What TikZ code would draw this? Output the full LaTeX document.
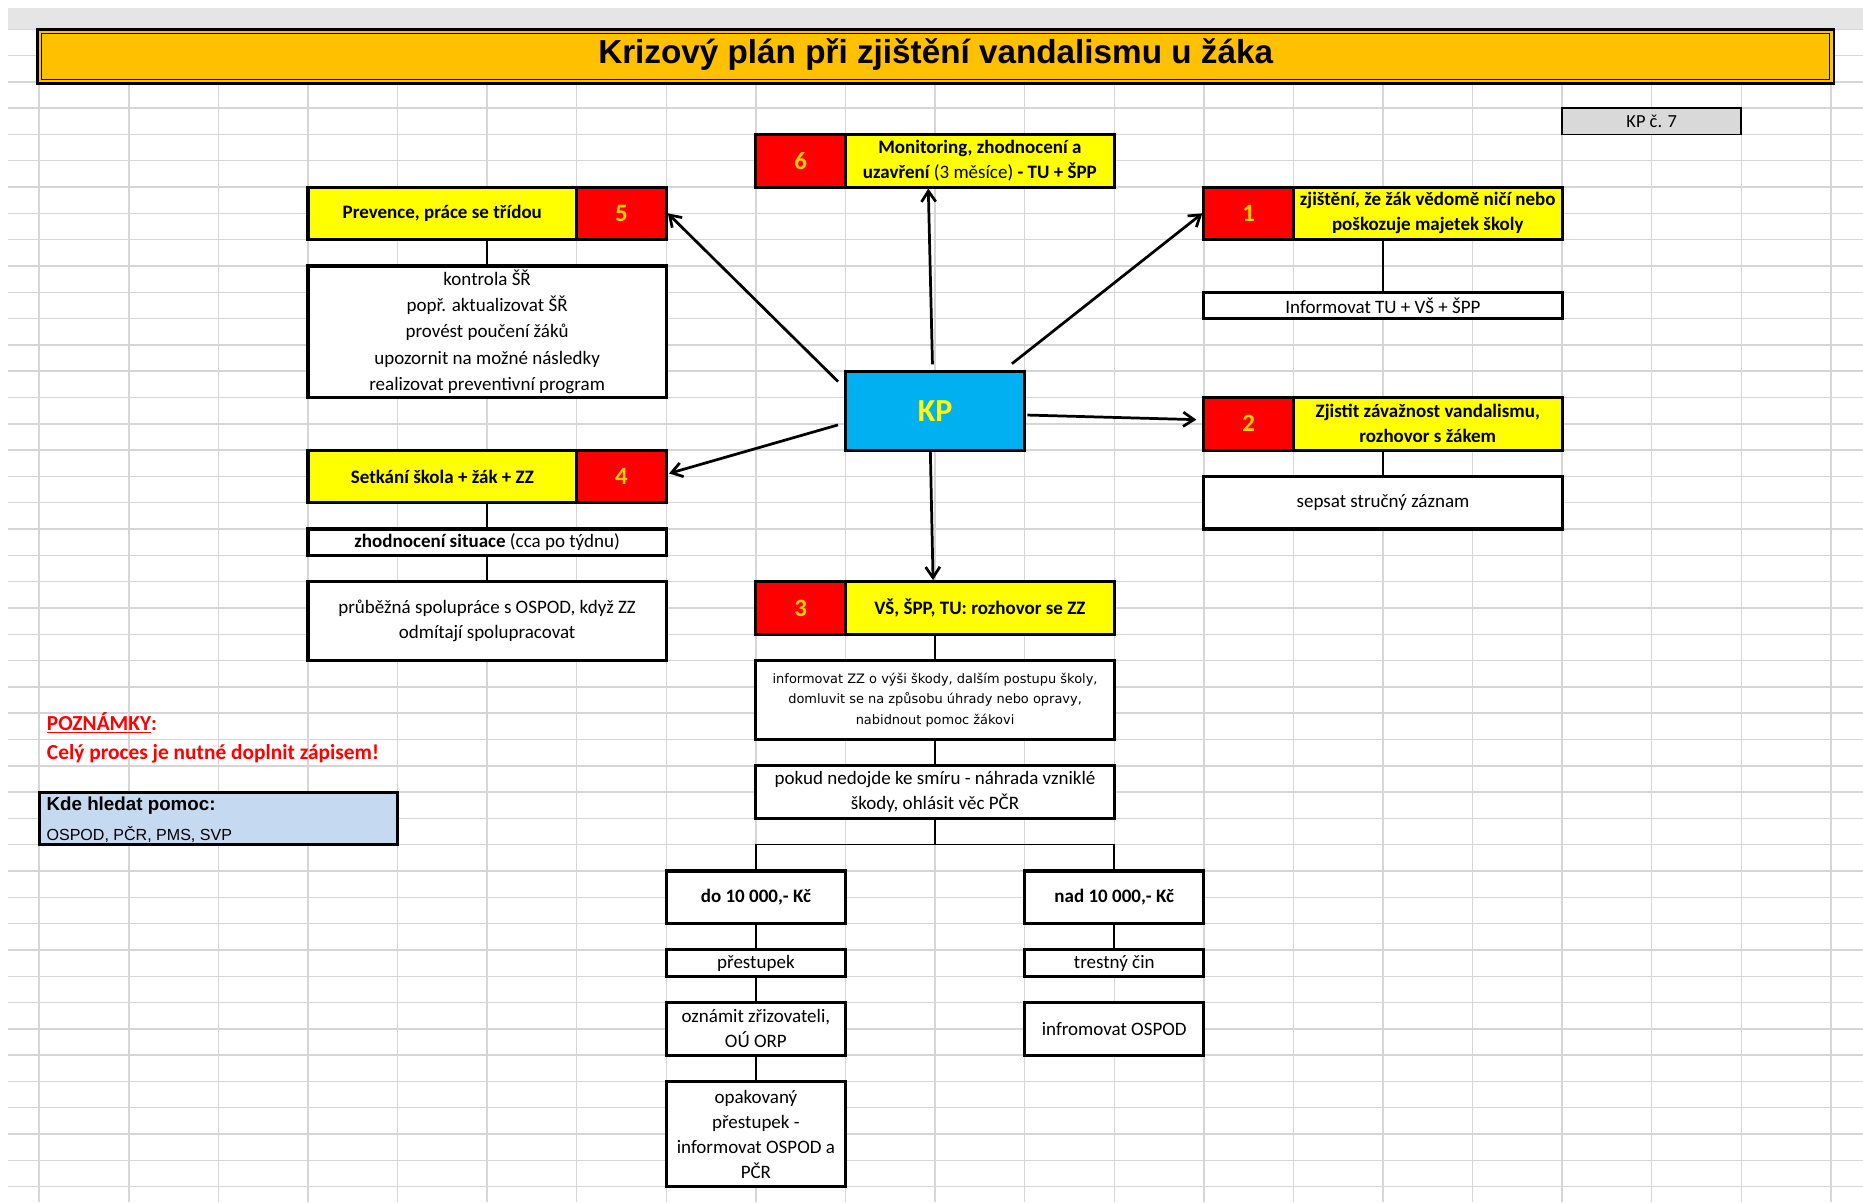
\documentclass[tikz,border=0pt]{standalone}
\usepackage{fontspec}
\setmainfont{Carlito}
\newfontfamily\headfont{Liberation Sans}
\newfontfamily\widefont{DejaVu Sans}
\usetikzlibrary{arrows.meta,calc}

\definecolor{gridgray}{HTML}{D6D6D6}
\definecolor{bandgray}{HTML}{E5E5E5}
\definecolor{titleorange}{HTML}{FFC000}
\definecolor{stepyellow}{HTML}{FFFF00}
\definecolor{stepred}{HTML}{FF0000}
\definecolor{kpblue}{HTML}{00B0F0}
\definecolor{numyellow}{HTML}{FFD200}
\definecolor{helpblue}{HTML}{C5D9F1}
\definecolor{labelgray}{HTML}{D9D9D9}
\definecolor{notered}{HTML}{FF0000}

% sheet grid: column lines and row lines
\pgfmathdeclarefunction{gx}{1}{\pgfmathparse{33+75.4*#1}}
\pgfmathdeclarefunction{gy}{1}{\pgfmathparse{24.6+22.14*#1}}

% a box covering columns #3..#4 and rows #5..#6
\newcommand\cellnode[7][]{%
  \node[cellbase,#1,minimum width={75.4*(#4-#3)},minimum height={22.14*(#6-#5)}]
    (#2) at ({gx((#3+#4)/2)},{gy((#5+#6)/2)}) {#7};}

\tikzset{
  gridline/.style={draw=gridgray, line width=1.2pt},
  cellbase/.style={rectangle, inner sep=0pt, align=center, font=\fontsize{16}{21}\selectfont},
  framed/.style={draw=black, line width=2.6pt},
  yellowcell/.style={framed, fill=stepyellow, font=\bfseries\fontsize{16}{21}\selectfont},
  redcell/.style={framed, fill=stepred, text=numyellow, font=\bfseries\fontsize{21}{21}\selectfont},
  whitecell/.style={framed, fill=white},
  kpcell/.style={framed, fill=kpblue, text=stepyellow, font=\bfseries\fontsize{27}{27}\selectfont},
  labelcell/.style={draw=black, line width=1.5pt, fill=labelgray, font=\fontsize{15.5}{18}\selectfont},
  helpcell/.style={framed, fill=helpblue},
  link/.style={draw=black, line width=1.3pt},
  spoke/.style={draw=black, line width=2.3pt, -{Straight Barb[length=9pt,width=12pt]}},
}

\begin{document}
\begin{tikzpicture}[x=1pt,y=-1pt]
\useasboundingbox (0,0) rectangle (1568,1012);

% header band and sheet grid
\fill[bandgray] (7,7) rectangle (1568,24.6);
\foreach \m in {0,...,44} \draw[gridline] (7,{gy(\m)}) -- (1568,{gy(\m)});
\foreach \j in {0,...,20} \draw[gridline] ({gx(\j)},24.6) -- ({gx(\j)},1012);

% title bar with double frame
\fill[titleorange] (31.5,24.6) rectangle (1543.5,70.2);
\draw[line width=2.2pt] (31.5,24.6) rectangle (1543.5,70.2);
\draw[line width=0.9pt] (35,28.1) rectangle (1540,66.7);
\node[font=\headfont\bfseries\fontsize{28}{30}\selectfont] (title) at (787.5,46)
  {Krizový plán při zjištění vandalismu u žáka};

% plan number
\cellnode[labelcell]{kpno}{17}{19}{3}{4}{KP č. 7}

% numbered steps
\cellnode[yellowcell]{y5}{3}{6}{6}{8}{Prevence, práce se třídou}
\cellnode[redcell]{r5}{6}{7}{6}{8}{5}

\cellnode[redcell]{r6}{8}{9}{4}{6}{6}
\cellnode[yellowcell]{y6}{9}{12}{4}{6}{Monitoring, zhodnocení a\\uzavření {\mdseries(3 měsíce)} - TU + ŠPP}

\cellnode[redcell]{r1}{13}{14}{6}{8}{1}
\cellnode[yellowcell]{y1}{14}{17}{6}{8}{zjištění, že žák vědomě ničí nebo\\poškozuje majetek školy}

\cellnode[redcell]{r2}{13}{14}{14}{16}{2}
\cellnode[yellowcell]{y2}{14}{17}{14}{16}{Zjistit závažnost vandalismu,\\rozhovor s žákem}

\cellnode[yellowcell]{y4}{3}{6}{16}{18}{Setkání škola + žák + ZZ}
\cellnode[redcell]{r4}{6}{7}{16}{18}{4}

\cellnode[redcell]{r3}{8}{9}{21}{23}{3}
\cellnode[yellowcell]{y3}{9}{12}{21}{23}{VŠ, ŠPP, TU: rozhovor se ZZ}

% centre
\cellnode[kpcell]{kp}{9}{11}{13}{16}{KP}

% detail boxes
\cellnode[whitecell,font=\fontsize{16}{22.14}\selectfont]{kontrola}{3}{7}{9}{14}{kontrola ŠŘ\\popř. aktualizovat ŠŘ\\provést poučení žáků\\upozornit na možné následky\\realizovat preventivní program}
\cellnode[whitecell]{inf1}{13}{17}{10}{11}{Informovat TU + VŠ + ŠPP}
\cellnode[whitecell]{sepsat}{13}{17}{17}{19}{sepsat stručný záznam}
\cellnode[whitecell]{zhod}{3}{7}{19}{20}{{\bfseries zhodnocení situace} (cca po týdnu)}
\cellnode[whitecell]{prub}{3}{7}{21}{24}{průběžná spolupráce s OSPOD, když ZZ\\odmítají spolupracovat}
\cellnode[whitecell,font=\widefont\fontsize{10.9}{17.5}\selectfont]{infzz}{8}{12}{24}{27}{informovat ZZ o výši škody, dalším postupu školy,\\domluvit se na způsobu úhrady nebo opravy,\\nabidnout pomoc žákovi}
\cellnode[whitecell]{pokud}{8}{12}{28}{30}{pokud nedojde ke smíru - náhrada vzniklé\\škody, ohlásit věc PČR}
\cellnode[whitecell,font=\bfseries\fontsize{16}{21}\selectfont]{do10}{7}{9}{32}{34}{do 10 000,- Kč}
\cellnode[whitecell,font=\bfseries\fontsize{16}{21}\selectfont]{nad10}{11}{13}{32}{34}{nad 10 000,- Kč}
\cellnode[whitecell]{prest}{7}{9}{35}{36}{přestupek}
\cellnode[whitecell]{trest}{11}{13}{35}{36}{trestný čin}
\cellnode[whitecell]{ozn}{7}{9}{37}{39}{oznámit zřizovateli,\\OÚ ORP}
\cellnode[whitecell]{infos}{11}{13}{37}{39}{infromovat OSPOD}
\cellnode[whitecell]{opak}{7}{9}{40}{44}{opakovaný\\přestupek -\\informovat OSPOD a\\PČR}

% notes
\node[anchor=west, text=notered, font=\bfseries\fontsize{18}{20}\selectfont] (notehead) at (36,608) {\underline{POZNÁMKY}:};
\node[anchor=west, text=notered, font=\bfseries\fontsize{18}{20}\selectfont] (notebody) at (36,634.6) {Celý proces je nutné doplnit zápisem!};

\cellnode[helpcell]{help}{0}{4}{29}{31}{}
\node[anchor=west, font=\headfont\bfseries\fontsize{15.8}{18}\selectfont] (helphead) at ([shift={(4,13)}]help.north west) {Kde hledat pomoc:};
\node[anchor=west, font=\headfont\fontsize{13.5}{16}\selectfont] (helpbody) at ([shift={(4,37)}]help.north west) {OSPOD, PČR, PMS, SVP};

% thin links between boxes
\draw[link] (kontrola.north) -- (kontrola.north |- y5.south);
\draw[link] (inf1.north) -- (inf1.north |- y1.south);
\draw[link] (sepsat.north) -- (sepsat.north |- y2.south);
\draw[link] (zhod.north) -- (zhod.north |- y4.south);
\draw[link] (zhod.south) -- (prub.north);
\draw[link] (infzz.north) -- (infzz.north |- y3.south);
\draw[link] (infzz.south) -- (pokud.north);
\coordinate (fork) at ({gx(10)},{gy(31)});
\draw[link] (pokud.south) -- (fork);
\draw[link] (do10.north) |- (fork) -| (nad10.north);
\draw[link] (do10.south) -- (prest.north);
\draw[link] (prest.south) -- (ozn.north);
\draw[link] (ozn.south) -- (opak.north);
\draw[link] (nad10.south) -- (trest.north);

% arrows from the centre
\draw[spoke] ([shift={(-5,10)}]kp.north west) -- (r5.east);
\draw[spoke] ([shift={(74.5,-4.5)}]kp.north west) -- ([shift={(71,0)}]y6.south west);
\draw[spoke] ([shift={(-12,-5)}]kp.north east) -- (r1.west);
\draw[spoke] ([shift={(1,3.7)}]kp.east) -- ([shift={(-5,-3.5)}]r2.west);
\draw[spoke] ([shift={(-5,12)}]kp.west) -- ([shift={(1,-2.5)}]r4.east);
\draw[spoke] ([shift={(-4,-1.5)}]kp.south) -- ([shift={(75,0)}]y3.north west);
\end{tikzpicture}
\end{document}
